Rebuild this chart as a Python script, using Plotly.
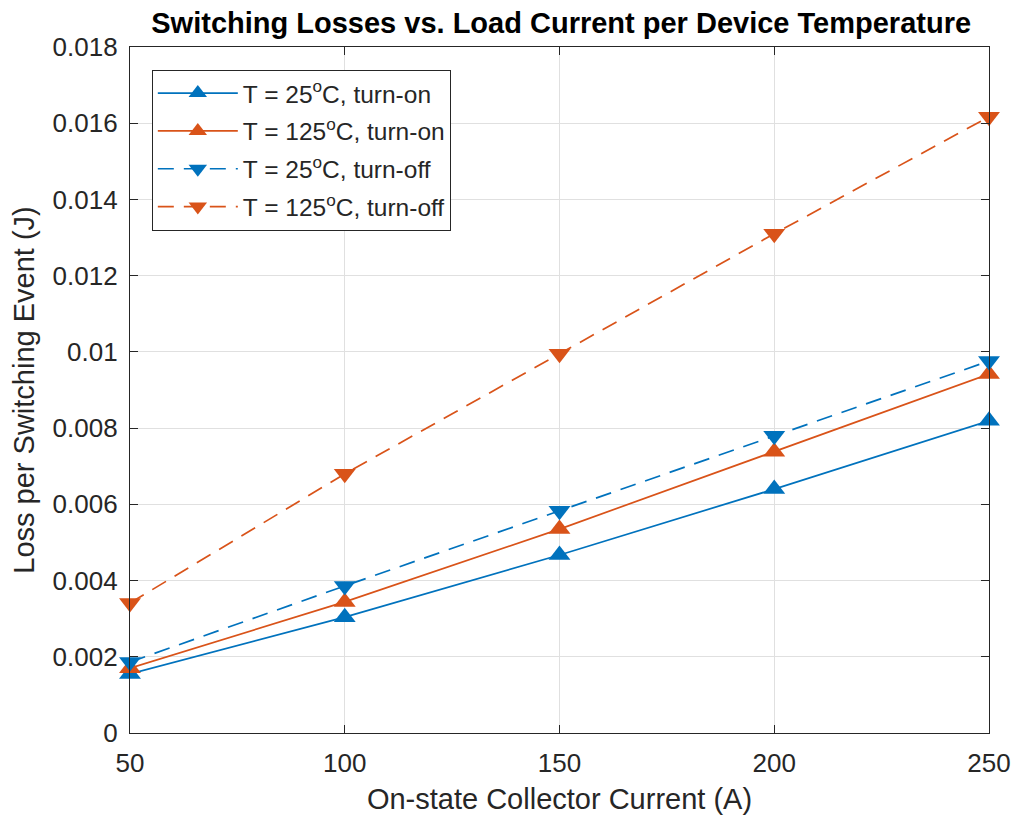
import plotly.graph_objects as go

current = [50, 100, 150, 200, 250]
on_25 = [0.00155, 0.00304, 0.00467, 0.0064, 0.00819]
on_125 = [0.0017, 0.00344, 0.00535, 0.00738, 0.00942]
off_25 = [0.00186, 0.00386, 0.00583, 0.0078, 0.00976]
off_125 = [0.00341, 0.0068, 0.00995, 0.0131, 0.01617]
y_ticks = [0, 0.002, 0.004, 0.006, 0.008, 0.01, 0.012, 0.014, 0.016, 0.018]
y_tick_text = ["0", "0.002", "0.004", "0.006", "0.008", "0.01", "0.012", "0.014", "0.016", "0.018"]
x_ticks = [50, 100, 150, 200, 250]

BLUE = "#0072BD"
ORANGE = "#D95319"
FONT = "Liberation Sans, Arial, Helvetica"

series = [
    ("T = 25<sup>o</sup>C, turn-on", on_25, BLUE, "solid", "triangle-up"),
    ("T = 125<sup>o</sup>C, turn-on", on_125, ORANGE, "solid", "triangle-up"),
    ("T = 25<sup>o</sup>C, turn-off", off_25, BLUE, "16px,10px", "triangle-down"),
    ("T = 125<sup>o</sup>C, turn-off", off_125, ORANGE, "16px,10px", "triangle-down"),
]

fig = go.Figure()
for i, (name, vals, col, dash, sym) in enumerate(series):
    fig.add_trace(go.Scatter(
        x=current, y=vals, name=name, mode="lines+markers",
        legendgroup=f"g{i}",
        line=dict(color=col, width=1.7, dash=dash),
        marker=dict(symbol=sym, size=19, color=col),
        cliponaxis=False,
    ))

axis_common = dict(
    showline=True, linecolor="#262626", linewidth=1.3, mirror="ticks",
    ticks="inside", ticklen=8, tickcolor="#262626", tickwidth=1.3,
    showgrid=True, gridcolor="#e0e0e0", gridwidth=1,
    zeroline=False,
    tickfont=dict(family=FONT, size=26, color="#262626"),
)

fig.update_xaxes(
    range=[50, 250], tickvals=x_ticks,
    ticklabelstandoff=7, automargin="right",
    title=dict(text="On-state Collector Current (A)",
               font=dict(family=FONT, size=29, color="#262626"),
               standoff=19),
    **axis_common,
)
fig.update_yaxes(
    range=[0, 0.018], tickvals=y_ticks, ticktext=y_tick_text,
    ticklabelstandoff=6, automargin=False,
    title=dict(text="Loss per Switching Event (J)",
               font=dict(family=FONT, size=29, color="#262626"),
               standoff=10),
    **axis_common,
)

fig.update_layout(
    width=1015, height=807,
    margin=dict(l=122, r=27, t=39, b=82),
    paper_bgcolor="white", plot_bgcolor="white",
    title=dict(text="<b>Switching Losses vs. Load Current per Device Temperature</b>",
               x=0.545, xanchor="center", xref="container",
               y=0.981, yanchor="middle", yref="container",
               font=dict(family=FONT, size=29, color="#000000")),
    legend=dict(
        x=0.0254, y=0.967, xanchor="left", yanchor="top",
        bgcolor="white", bordercolor="#262626", borderwidth=1,
        font=dict(family=FONT, size=24.5, color="#262626"),
        tracegroupgap=3, itemwidth=80,
    ),
    showlegend=True,
)

fig.write_html("out.html")
